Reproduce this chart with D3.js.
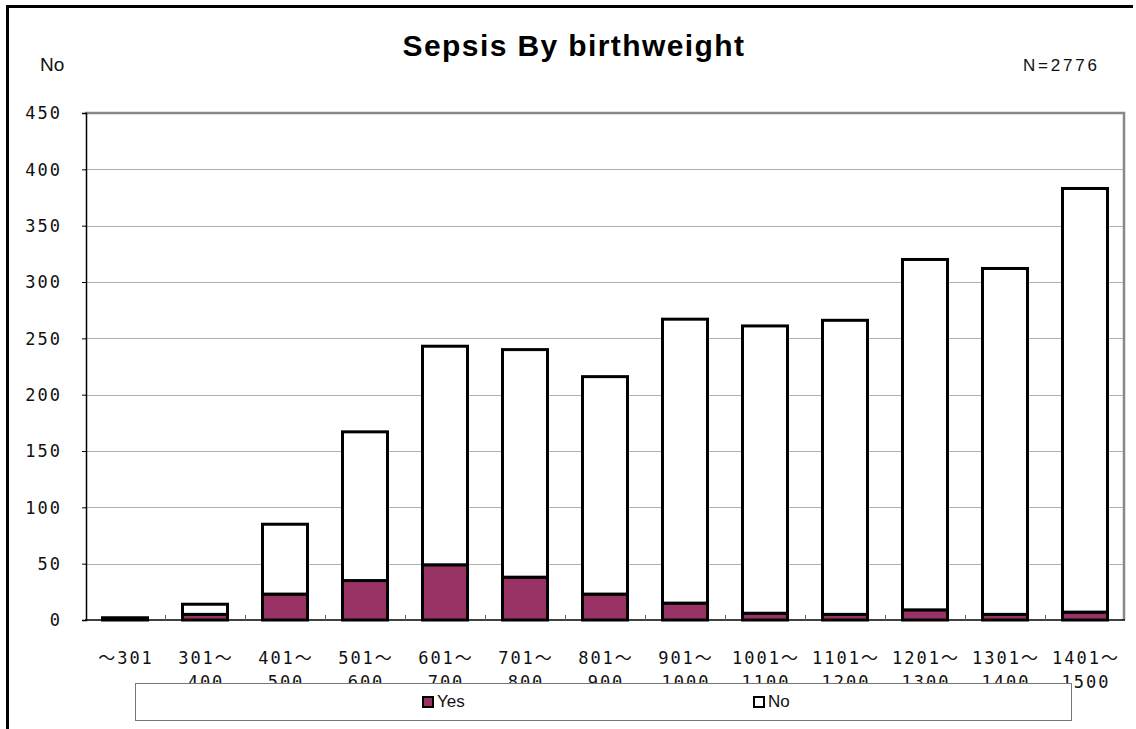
<!DOCTYPE html>
<html>
<head>
<meta charset="utf-8">
<script src="https://cdn.jsdelivr.net/npm/d3@7"></script>
<style>
  html, body { margin: 0; padding: 0; background: #fff; }
  svg { display: block; }
</style>
</head>
<body>
<svg id="chart" width="1136" height="729"></svg>
<script>
// Birthweight bands (grams); each label wraps to two lines
const categories = [
  ["～301", ""], ["301～", "400"], ["401～", "500"], ["501～", "600"],
  ["601～", "700"], ["701～", "800"], ["801～", "900"], ["901～", "1000"],
  ["1001～", "1100"], ["1101～", "1200"], ["1201～", "1300"], ["1301～", "1400"],
  ["1401～", "1500"]
];
// Infants with sepsis (Yes) and without (No) in each band
const yesValues = [1, 5, 23, 35, 49, 38, 23, 15, 6, 5, 9, 5, 7];
const noValues  = [1, 9, 62, 132, 194, 202, 193, 252, 255, 261, 311, 307, 376];
const yTicks = [0, 50, 100, 150, 200, 250, 300, 350, 400, 450];
const seriesNames = ["Yes", "No"];
const seriesColors = ["#993366", "#ffffff"];

const svg = d3.select("#chart");
const plot = { left: 85, right: 1125, top: 113, bottom: 620 };

const keys = categories.map((c, i) => i);
const x = d3.scaleBand()
  .domain(keys)
  .range([plot.left, plot.right])
  .paddingInner(0.4375)
  .paddingOuter(0.21875);
const y = d3.scaleLinear().domain([0, 450]).range([plot.bottom, plot.top]);

// Outer frame (left and top edges)
svg.append("path")
  .attr("d", `M7.5,729 V6.5 H1133`)
  .attr("fill", "none").attr("stroke", "#000").attr("stroke-width", 3);

// Gridlines
svg.append("g").selectAll("line")
  .data(yTicks.filter(t => t > 0 && t < 450))
  .join("line")
  .attr("x1", plot.left).attr("x2", plot.right)
  .attr("y1", d => Math.round(y(d)) + 0.5).attr("y2", d => Math.round(y(d)) + 0.5)
  .attr("stroke", "#b0b0b0").attr("stroke-width", 1);

// Plot area border (top and right)
svg.append("path")
  .attr("d", `M${plot.left},${plot.top} H${plot.right - 1} V${plot.bottom}`)
  .attr("fill", "none").attr("stroke", "#888").attr("stroke-width", 2.5);

// Stacked bars
const rows = keys.map(i => ({ i, Yes: yesValues[i], No: noValues[i] }));
const stacked = d3.stack().keys(seriesNames)(rows);

svg.append("g").selectAll("g")
  .data(stacked)
  .join("g")
  .attr("fill", (d, k) => seriesColors[k])
  .selectAll("rect")
  .data(d => d)
  .join("rect")
  .attr("x", d => x(d.data.i))
  .attr("width", x.bandwidth())
  .attr("y", d => y(d[1]))
  .attr("height", d => y(d[0]) - y(d[1]))
  .attr("stroke", "#000")
  .attr("stroke-width", 3);

// Y axis
const yAxis = d3.axisLeft(y).tickValues(yTicks).tickSize(4).tickPadding(20);
const yG = svg.append("g")
  .attr("transform", `translate(${plot.left + 1},0)`)
  .call(yAxis);
yG.select(".domain").attr("stroke", "#000").attr("stroke-width", 1.5);
yG.selectAll(".tick line").attr("stroke", "#000");
yG.selectAll(".tick text")
  .attr("font-family", "'DejaVu Sans Mono', monospace")
  .attr("font-size", 17)
  .attr("letter-spacing", 2)
  .attr("fill", "#111")
  .attr("dy", "0.35em");

// X axis: baseline with small ticks between categories
const boundaries = d3.range(categories.length + 1).map(k => plot.left + k * x.step());
svg.append("line")
  .attr("x1", plot.left).attr("x2", plot.right)
  .attr("y1", plot.bottom).attr("y2", plot.bottom)
  .attr("stroke", "#000").attr("stroke-width", 1.5);
svg.append("g").selectAll("line")
  .data(boundaries.slice(1, -1))
  .join("line")
  .attr("x1", d => d + 0.5).attr("x2", d => d + 0.5)
  .attr("y1", plot.bottom - 5).attr("y2", plot.bottom)
  .attr("stroke", "#666").attr("stroke-width", 1);

// Category labels
const xl = svg.append("g")
  .attr("font-family", "'DejaVu Sans Mono', 'Noto Sans CJK JP', monospace")
  .attr("font-size", 17)
  .attr("letter-spacing", 2)
  .attr("fill", "#111")
  .attr("text-anchor", "middle");
xl.selectAll("text.l1")
  .data(keys).join("text").attr("class", "l1")
  .attr("x", i => x(i) + x.bandwidth() / 2 + 1)
  .attr("y", 664)
  .text(i => categories[i][0]);
xl.selectAll("text.l2")
  .data(keys).join("text").attr("class", "l2")
  .attr("x", i => x(i) + x.bandwidth() / 2 + 1)
  .attr("y", 688)
  .text(i => categories[i][1]);

// Legend box (sits over the wrapped second line of the labels)
const legend = svg.append("g");
legend.append("rect")
  .attr("x", 135.5).attr("y", 683.5).attr("width", 936).attr("height", 37)
  .attr("fill", "#fff").attr("stroke", "#777").attr("stroke-width", 1);
const legendX = [422, 753];
seriesNames.forEach((name, k) => {
  legend.append("rect")
    .attr("x", legendX[k] + 1).attr("y", 697).attr("width", 10).attr("height", 10)
    .attr("fill", seriesColors[k]).attr("stroke", "#000").attr("stroke-width", 2);
  legend.append("text")
    .attr("x", legendX[k] + 15).attr("y", 707)
    .attr("font-family", "'Liberation Sans', Arial, sans-serif")
    .attr("font-size", 17)
    .attr("fill", "#111")
    .text(name);
});

// Title and annotations
svg.append("text")
  .attr("x", 574).attr("y", 56)
  .attr("text-anchor", "middle")
  .attr("font-family", "'Liberation Sans', Arial, sans-serif")
  .attr("font-weight", "bold")
  .attr("font-size", 30)
  .attr("letter-spacing", 1.4)
  .attr("fill", "#000")
  .text("Sepsis By birthweight");
svg.append("text")
  .attr("x", 40).attr("y", 71)
  .attr("font-family", "'Liberation Sans', Arial, sans-serif")
  .attr("font-size", 19)
  .attr("fill", "#111")
  .text("No");
svg.append("text")
  .attr("x", 1023).attr("y", 71)
  .attr("font-family", "'Liberation Sans', Arial, sans-serif")
  .attr("font-size", 17)
  .attr("letter-spacing", 2.8)
  .attr("fill", "#111")
  .text("N=2776");
</script>
</body>
</html>
